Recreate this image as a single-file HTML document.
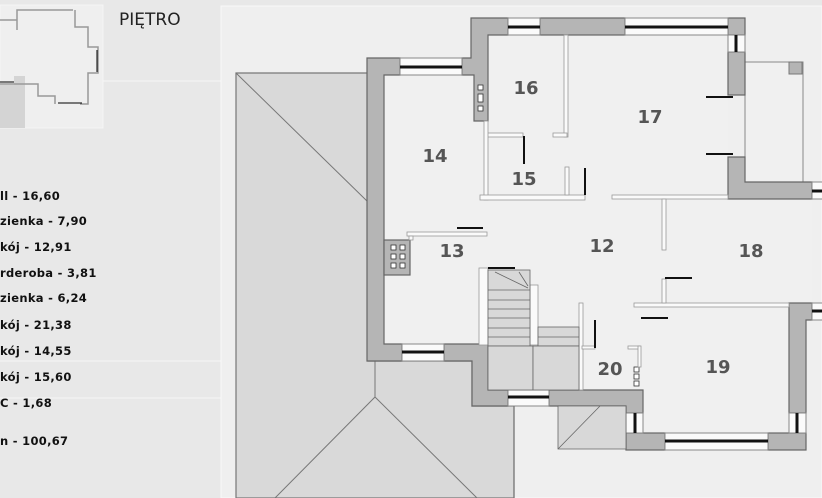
<!DOCTYPE html>
<html><head><meta charset="utf-8"><style>
html,body{margin:0;padding:0;background:#e9e9e9;}
body{width:822px;height:498px;overflow:hidden;position:relative;font-family:"DejaVu Sans","Liberation Sans",sans-serif;}
.t{position:absolute;left:0;font-size:11.5px;font-weight:bold;color:#111;white-space:nowrap;letter-spacing:0.3px;}
</style></head><body>
<svg width="822" height="498" style="position:absolute;left:0;top:0" xmlns="http://www.w3.org/2000/svg">
<rect x="0" y="0" width="822" height="498" fill="#e8e8e8"/>
<line x1="0" y1="81" x2="221" y2="81" stroke="#f6f6f6" stroke-width="1"/>
<line x1="0" y1="361" x2="221" y2="361" stroke="#f6f6f6"/>
<line x1="0" y1="398" x2="221" y2="398" stroke="#f6f6f6"/>
<!-- thumbnail -->
<rect x="0" y="5" width="103" height="123" fill="#efefef" stroke="#f5f5f5"/>
<polygon points="0,85 14,85 14,76 25,76 25,128 0,128" fill="#d4d4d4"/>
<g stroke="#999" stroke-width="1.5" fill="none">
<polyline points="17,30 17,10 73,10"/><polyline points="0,20 17,20"/>
<polyline points="75,10 75,27 88,27 88,47 98,47 98,73 88,73 88,104 80,104"/>
<polyline points="55,104 55,96 38,96 38,84 0,84"/>
</g>
<g stroke="#000" stroke-width="1"><line x1="0" y1="82" x2="14" y2="82"/><line x1="58" y1="103" x2="82" y2="103"/><line x1="97" y1="50" x2="97" y2="72"/></g>
<rect x="221" y="6" width="601" height="492" fill="#efefef" stroke="#f8f8f8"/>
<!-- roof -->
<polygon points="236,73 368,73 368,361 472,361 472,406 514,406 514,498 236,498" fill="#d9d9d9" stroke="#777" stroke-width="1.2"/>
<line x1="236" y1="73" x2="368" y2="202" stroke="#777"/>
<line x1="375" y1="361" x2="375" y2="397" stroke="#777"/>
<line x1="375" y1="397" x2="275" y2="498" stroke="#777"/>
<line x1="375" y1="397" x2="477" y2="498" stroke="#777"/>
<!-- floor -->
<polygon points="384,75 474,75 474,35 728,35 728,199 812,199 812,320 789,320 789,433 643,433 643,390 488,390 488,344 384,344" fill="#f0f0f0"/>
<polygon points="745,62 803,62 803,182 745,182" fill="#f0f0f0" stroke="#888"/>
<rect x="789" y="62" width="13" height="12" fill="#b4b4b4" stroke="#777"/>
<!-- walls -->
<g fill="#b5b5b5" stroke="#666" stroke-width="1.2">
<polygon points="367,58 400,58 400,75 384,75 384,344 402,344 402,361 367,361"/>
<polygon points="471,18 508,18 508,35 488,35 488,121 474,121 474,75 462,75 462,58 471,58"/>
<rect x="540" y="18" width="85" height="17"/>
<rect x="728" y="18" width="17" height="17"/>
<rect x="728" y="52" width="17" height="43"/>
<polygon points="728,157 745,157 745,182 812,182 812,199 728,199"/>
<rect x="384" y="240" width="26" height="35"/>
<polygon points="444,344 488,344 488,390 508,390 508,406 472,406 472,361 444,361"/>
<polygon points="549,390 643,390 643,413 626,413 626,406 549,406"/>
<rect x="626" y="433" width="39" height="17"/>
<rect x="768" y="433" width="38" height="17"/>
<polygon points="789,303 812,303 812,320 806,320 806,413 789,413"/>
</g>
<!-- windows -->
<g fill="#fafafa" stroke="#888">
<rect x="400" y="58" width="62" height="17"/><rect x="508" y="18" width="32" height="17"/>
<rect x="625" y="18" width="103" height="17"/><rect x="728" y="35" width="17" height="17"/>
<rect x="812" y="182" width="12" height="17"/><rect x="402" y="344" width="42" height="17"/>
<rect x="508" y="390" width="41" height="16"/><rect x="626" y="413" width="17" height="20"/>
<rect x="665" y="433" width="103" height="17"/><rect x="789" y="413" width="17" height="20"/>
<rect x="812" y="303" width="12" height="17"/>
</g>
<g stroke="#111" stroke-width="3">
<line x1="400" y1="67" x2="462" y2="67"/><line x1="508" y1="27" x2="540" y2="27"/>
<line x1="625" y1="27" x2="728" y2="27"/><line x1="736" y1="35" x2="736" y2="52"/>
<line x1="812" y1="191" x2="822" y2="191"/><line x1="402" y1="352" x2="444" y2="352"/>
<line x1="508" y1="397" x2="549" y2="397"/><line x1="635" y1="413" x2="635" y2="433"/>
<line x1="665" y1="441" x2="768" y2="441"/><line x1="797" y1="413" x2="797" y2="433"/>
<line x1="812" y1="311" x2="822" y2="311"/>
</g>
<!-- vents -->
<g fill="#fff" stroke="#333" stroke-width="0.8">
<rect x="478" y="85" width="5" height="5"/><rect x="478" y="94" width="5" height="8"/><rect x="478" y="106" width="5" height="5"/>
<rect x="391" y="245" width="5" height="5"/><rect x="400" y="245" width="5" height="5"/>
<rect x="391" y="254" width="5" height="5"/><rect x="400" y="254" width="5" height="5"/>
<rect x="391" y="263" width="5" height="5"/><rect x="400" y="263" width="5" height="5"/>
<rect x="634" y="367" width="5" height="5"/><rect x="634" y="374" width="5" height="5"/><rect x="634" y="381" width="5" height="5"/>
</g>
<!-- thin internal walls -->
<g fill="#fafafa" stroke="#999" stroke-width="0.8">
<rect x="564" y="35" width="4" height="102"/><rect x="553" y="133" width="14" height="4"/>
<rect x="486" y="133" width="37" height="4"/>
<rect x="484" y="121" width="4" height="79"/>
<rect x="480" y="195" width="105" height="5"/>
<rect x="565" y="167" width="4" height="28"/>
<rect x="612" y="195" width="116" height="4"/>
<rect x="662" y="199" width="4" height="51"/>
<rect x="407" y="232" width="80" height="4"/><rect x="409" y="236" width="4" height="4"/>
<rect x="479" y="268" width="9" height="77"/><rect x="530" y="285" width="8" height="60"/>
<rect x="579" y="303" width="4" height="87"/><rect x="582" y="346" width="13" height="3"/>
<rect x="634" y="303" width="155" height="4"/><rect x="662" y="279" width="4" height="24"/>
<rect x="628" y="346" width="12" height="3"/><rect x="638" y="346" width="3" height="21"/>
</g>
<g stroke="#111" stroke-width="2">
<line x1="524" y1="136" x2="524" y2="164"/><line x1="585" y1="168" x2="585" y2="195"/>
<line x1="706" y1="97" x2="733" y2="97"/><line x1="706" y1="154" x2="733" y2="154"/>
<line x1="457" y1="228" x2="483" y2="228"/><line x1="488" y1="268" x2="515" y2="268"/>
<line x1="595" y1="320" x2="595" y2="348"/><line x1="665" y1="278" x2="692" y2="278"/>
<line x1="641" y1="318" x2="668" y2="318"/>
</g>
<!-- stairs -->
<g fill="#d8d8d8" stroke="#666" stroke-width="0.8">
<rect x="488" y="270" width="42" height="76"/>
<rect x="538" y="327" width="41" height="19"/>
<rect x="488" y="346" width="45" height="44"/><rect x="533" y="346" width="46" height="44"/>
<polygon points="558,406 626,406 626,449 558,449"/>
</g>
<g stroke="#666" stroke-width="0.8">
<line x1="488" y1="290" x2="530" y2="290"/><line x1="488" y1="300" x2="530" y2="300"/>
<line x1="488" y1="309" x2="530" y2="309"/><line x1="488" y1="318" x2="530" y2="318"/>
<line x1="488" y1="328" x2="530" y2="328"/><line x1="488" y1="337" x2="530" y2="337"/>
<line x1="538" y1="337" x2="579" y2="337"/>
<line x1="495" y1="272" x2="528" y2="288"/><line x1="519" y1="272" x2="528" y2="286"/>
<line x1="558" y1="449" x2="600" y2="406"/>
<line x1="514" y1="406" x2="514" y2="498" stroke="#777" stroke-width="1.2"/>
</g>
<!-- labels -->
<g font-family="DejaVu Sans, Liberation Sans, sans-serif" font-weight="bold" font-size="18" fill="#555" text-anchor="middle">
<text x="526" y="94">16</text><text x="650" y="123">17</text><text x="435" y="162">14</text>
<text x="524" y="185">15</text><text x="602" y="252">12</text><text x="452" y="257">13</text>
<text x="751" y="257">18</text><text x="718" y="373">19</text><text x="610" y="375">20</text>
</g>
<text x="119" y="25" font-family="DejaVu Sans, sans-serif" font-size="17" fill="#222">PIĘTRO</text>
</svg>
<div class="t" style="top:189px">ll - 16,60</div>
<div class="t" style="top:214px">zienka - 7,90</div>
<div class="t" style="top:240px">kój - 12,91</div>
<div class="t" style="top:266px">rderoba - 3,81</div>
<div class="t" style="top:291px">zienka - 6,24</div>
<div class="t" style="top:318px">kój - 21,38</div>
<div class="t" style="top:344px">kój - 14,55</div>
<div class="t" style="top:370px">kój - 15,60</div>
<div class="t" style="top:396px">C - 1,68</div>
<div class="t" style="top:434px">n - 100,67</div>
</body></html>
